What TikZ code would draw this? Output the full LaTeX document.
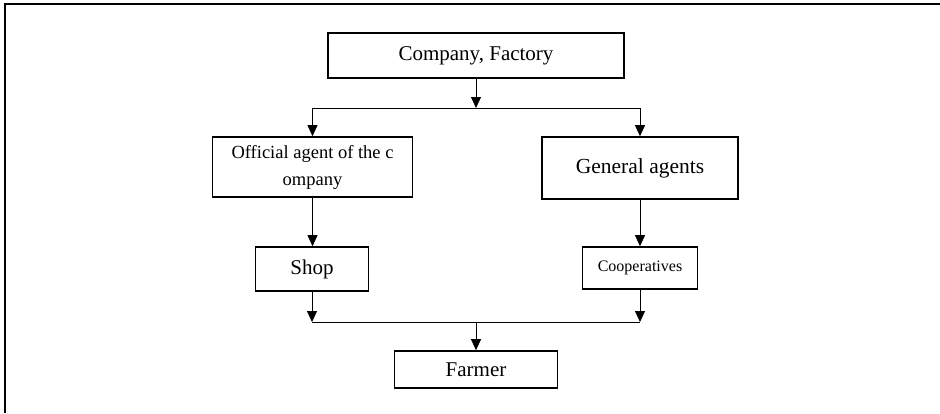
\documentclass[tikz,border=0pt]{standalone}
\usepackage{fontspec}
\setmainfont{Liberation Serif}
\usetikzlibrary{arrows.meta}

\begin{document}
\begin{tikzpicture}[
  x=1pt,y=-1pt,
  every unit/.style={
    draw=black,
    line width=1.6pt,
    inner sep=0pt,
    align=center,
  },
  unit/.style={
    every unit,
    font=\fontsize{21}{25}\selectfont,
  },
  flow/.style={
    line width=0.8pt,
    -{Triangle[length=11pt,width=10pt]},
  },
  bus/.style={
    line width=0.8pt,
  },
]
\useasboundingbox (0,0) rectangle (940,413);
\draw[line width=1.8pt] (5,413) -- (5,4) -- (940,4);
\node[unit,minimum width=296,minimum height=45] (company) at (476,55.5) {Company, Factory};
\node[unit,minimum width=200,minimum height=60,font=\fontsize{18.5}{27}\selectfont] (official) at (312.5,167) {Official agent of the c\\ompany};
\node[unit,minimum width=196,minimum height=62,font=\fontsize{21.5}{25}\selectfont] (general) at (640,168) {General agents};
\node[unit,minimum width=113,minimum height=44] (shop) at (312,269) {Shop};
\node[unit,minimum width=115,minimum height=42,font=\fontsize{16}{19}\selectfont] (coop) at (640,268) {Cooperatives};
\node[unit,minimum width=163,minimum height=37] (farmer) at (476,369.5) {Farmer};
% upper split
\coordinate (split) at (476,108);
\coordinate (splitL) at (312.5,108);
\coordinate (splitR) at (640,108);
\draw[flow] (company.south) -- (split);
\draw[bus] (splitL) -- (splitR);
\draw[flow] (splitL) -- (official.north);
\draw[flow] (splitR) -- (general.north);
% the two channels
\draw[flow] (official.south) -- (official.south |- shop.north);
\draw[flow] (general.south) -- (general.south |- coop.north);
% lower join
\coordinate (joinL) at (312,322);
\coordinate (joinR) at (640,322);
\coordinate (join) at (476,322);
\draw[flow] (shop.south) -- (joinL);
\draw[flow] (coop.south) -- (joinR);
\draw[bus] (joinL) -- (joinR);
\draw[flow] (join) -- (farmer.north);
\end{tikzpicture}
\end{document}
